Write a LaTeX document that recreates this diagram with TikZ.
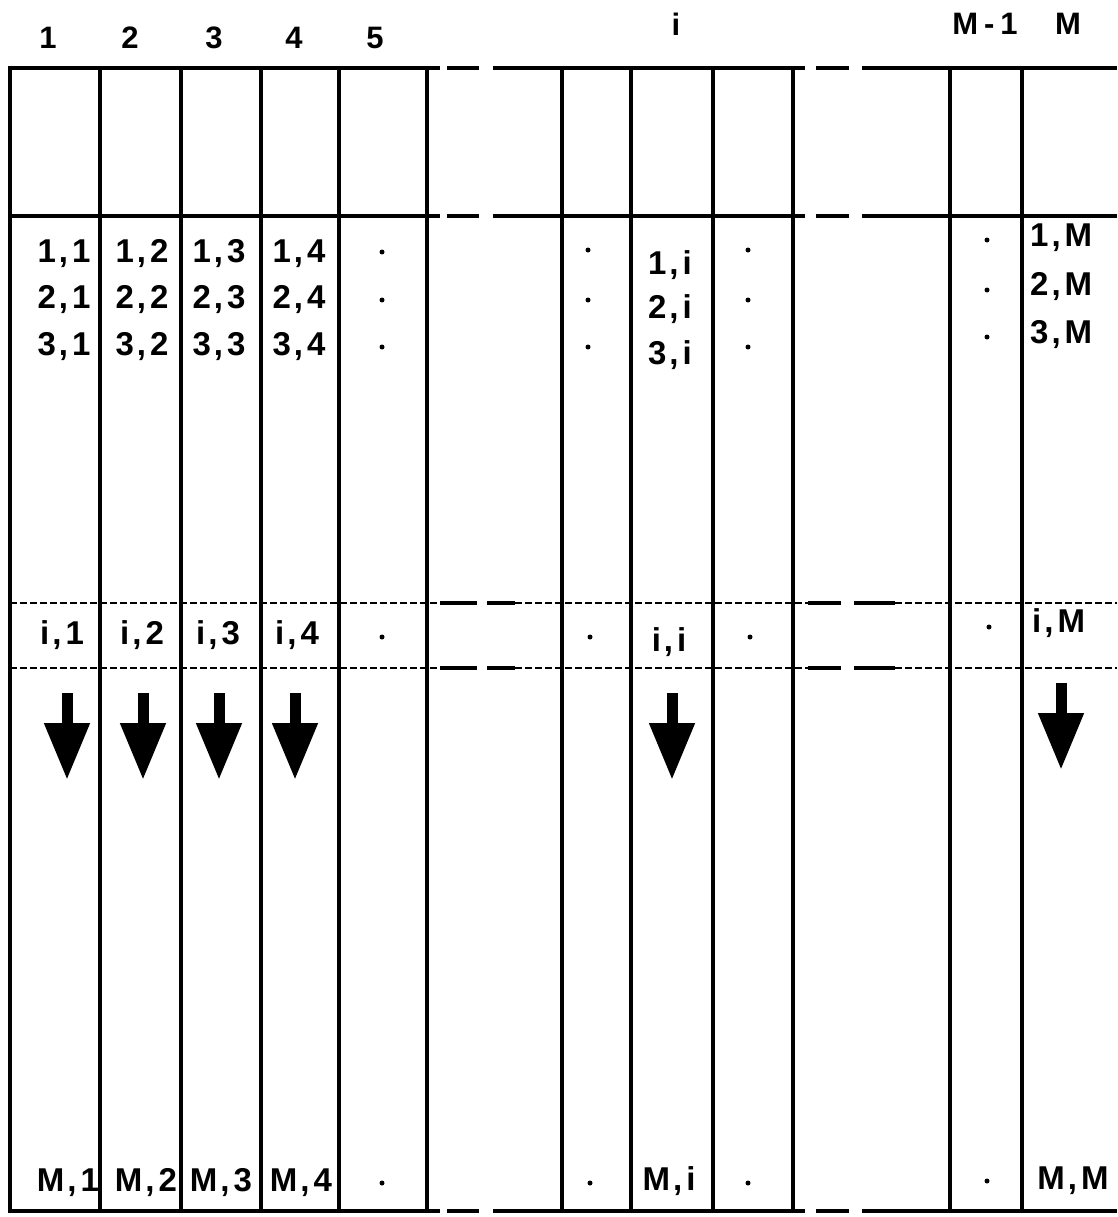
\documentclass[tikz,border=0pt]{standalone}
\usepackage{fontspec}
\setmainfont{Liberation Sans}
\usetikzlibrary{arrows.meta}
\newcommand\sepc{\kern3pt,\kern4pt}

\begin{document}
\begin{tikzpicture}[
  x=1pt, y=-1pt,
  rule/.style={line width=3.6pt},
  fine/.style={line width=2.6pt, dash pattern=on 7pt off 3pt},
  head/.style={inner sep=0pt, font=\fontsize{31}{33}\selectfont\bfseries},
  cell/.style={inner sep=0pt, font=\fontsize{33}{35}\selectfont\bfseries},
  dotc/.style={circle, fill, inner sep=0pt, minimum size=5pt},
  down/.style={line width=11pt, -{Triangle[width=43pt,length=57pt]}}
]
\useasboundingbox (0,0) rectangle (1117,1217);

% column numbers
\node[head] (h1) at (48,38) {1};
\node[head] (h2) at (130,38) {2};
\node[head] (h3) at (214,38) {3};
\node[head] (h4) at (294,38) {4};
\node[head] (h5) at (375,38) {5};
\node[head] (hi) at (676,24) {i};
\node[head] (hm1) at (985,24) {M\kern6pt-\kern6pt1};
\node[head] (hm) at (1068,24) {M};

% column walls
\foreach \x in {100,181,261,339,427,562,631,713,793,950,1022}
  \draw[rule] (\x,68) -- (\x,1211);
\draw[line width=4.2pt] (10,66) -- (10,1213);

% solid rows, broken where columns are left out
\foreach \y in {68,216,1211}
  \draw[rule] (8,\y) -- (440,\y) (447,\y) -- (479,\y) (493,\y) -- (805,\y)
    (816,\y) -- (849,\y) (862,\y) -- (1117,\y);

% row i
\foreach \y in {603,668} {
  \draw[fine] (10,\y) -- (440,\y) (515,\y) -- (808,\y) (895,\y) -- (1117,\y);
  \draw[rule] (440,\y) -- (477,\y) (487,\y) -- (515,\y) (808,\y) -- (841,\y) (854,\y) -- (895,\y);
}

% first rows
\node[cell] (c11) at (64,254) {1\sepc 1};
\node[cell] (c12) at (142,254) {1\sepc 2};
\node[cell] (c13) at (219,254) {1\sepc 3};
\node[cell] (c14) at (299,254) {1\sepc 4};
\node[dotc] (d15) at (382,252) {};
\node[dotc] (d1a) at (588,250) {};
\node[cell] (c1i) at (670,265) {1\sepc i};
\node[dotc] (d1b) at (748,250) {};
\node[dotc] (d1c) at (987,240) {};
\node[cell, anchor=west] (c1M) at (1030,238) {1\sepc M};

\node[cell] (c21) at (64,300) {2\sepc 1};
\node[cell] (c22) at (142,300) {2\sepc 2};
\node[cell] (c23) at (219,300) {2\sepc 3};
\node[cell] (c24) at (299,300) {2\sepc 4};
\node[dotc] (d25) at (382,300) {};
\node[dotc] (d2a) at (588,300) {};
\node[cell] (c2i) at (670,309) {2\sepc i};
\node[dotc] (d2b) at (748,300) {};
\node[dotc] (d2c) at (987,290) {};
\node[cell, anchor=west] (c2M) at (1030,287) {2\sepc M};

\node[cell] (c31) at (64,347) {3\sepc 1};
\node[cell] (c32) at (142,347) {3\sepc 2};
\node[cell] (c33) at (219,347) {3\sepc 3};
\node[cell] (c34) at (299,347) {3\sepc 4};
\node[dotc] (d35) at (382,347) {};
\node[dotc] (d3a) at (588,347) {};
\node[cell] (c3i) at (670,355) {3\sepc i};
\node[dotc] (d3b) at (748,347) {};
\node[dotc] (d3c) at (987,337) {};
\node[cell, anchor=west] (c3M) at (1030,335) {3\sepc M};

% row i
\node[cell] (ci1) at (62,635) {i\sepc 1};
\node[cell] (ci2) at (142,635) {i\sepc 2};
\node[cell] (ci3) at (218,635) {i\sepc 3};
\node[cell] (ci4) at (297,635) {i\sepc 4};
\node[dotc] (di5) at (382,637) {};
\node[dotc] (dia) at (590,637) {};
\node[cell] (cii) at (669,642) {i\sepc i};
\node[dotc] (dib) at (750,637) {};
\node[dotc] (dic) at (989,627) {};
\node[cell, anchor=west] (ciM) at (1032,623) {i\sepc M};

% last row
\node[cell] (cM1) at (68,1183) {M\sepc 1};
\node[cell] (cM2) at (146,1183) {M\sepc 2};
\node[cell] (cM3) at (221,1183) {M\sepc 3};
\node[cell] (cM4) at (301,1183) {M\sepc 4};
\node[dotc] (dM5) at (382,1183) {};
\node[dotc] (dMa) at (590,1183) {};
\node[cell] (cMi) at (669,1181) {M\sepc i};
\node[dotc] (dMb) at (748,1183) {};
\node[dotc] (dMc) at (987,1181) {};
\node[cell] (cMM) at (1073,1181) {M\sepc M};

% downward sweep
\foreach \x in {67,143,219,295,672}
  \draw[down] (\x,693) -- (\x,780);
\draw[down] (1061,683) -- (1061,770);
\end{tikzpicture}
\end{document}
